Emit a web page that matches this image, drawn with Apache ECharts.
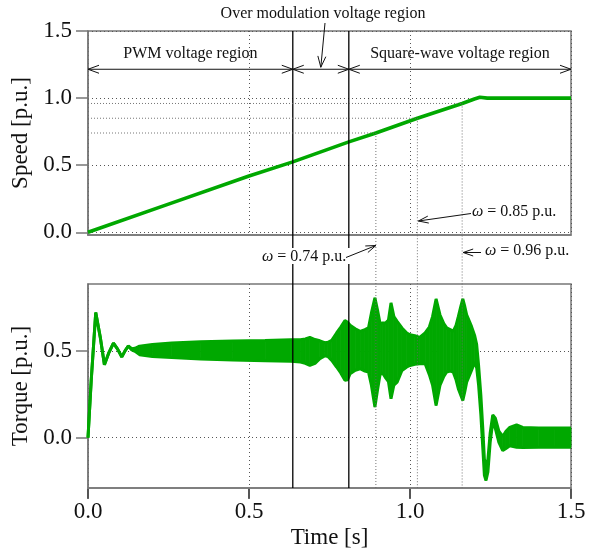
<!DOCTYPE html>
<html><head><meta charset="utf-8">
<script src="https://cdn.jsdelivr.net/npm/echarts@6/dist/echarts.min.js"></script>
<style>html,body{margin:0;padding:0;background:#fff}#c{width:600px;height:558px}</style>
</head><body><div id="c"></div>
<script>
// ---- data ----
const speedTime   = [0, 0.25, 0.5, 0.636, 0.81, 0.894, 1.023, 1.162, 1.2, 1.217, 1.24, 1.5];
const speedValues = [0, 0.21, 0.42, 0.525, 0.674, 0.74, 0.85, 0.96, 0.993, 1.006, 1.0, 1.0];

const torqueTime  = [0.000,0.010,0.024,0.038,0.051,0.065,0.079,0.092,0.105,0.115,0.125,0.136,0.146,0.160,0.200,0.260,0.350,0.450,0.550,0.630,0.660,0.675,0.689,0.705,0.720,0.735,0.745,0.757,0.772,0.785,0.798,0.806,0.814,0.830,0.845,0.860,0.871,0.880,0.891,0.899,0.907,0.915,0.925,0.933,0.941,0.950,0.960,0.975,0.990,1.000,1.015,1.030,1.047,1.060,1.070,1.081,1.093,1.105,1.114,1.125,1.134,1.143,1.150,1.158,1.164,1.170,1.176,1.191,1.201,1.207,1.213,1.220,1.226,1.231,1.236,1.242,1.249,1.257,1.265,1.276,1.288,1.298,1.310,1.331,1.350,1.400,1.450,1.500];
const torqueUpper = [0.00,0.33,0.72,0.58,0.42,0.49,0.545,0.51,0.465,0.50,0.528,0.512,0.515,0.527,0.537,0.545,0.552,0.557,0.560,0.564,0.564,0.569,0.577,0.565,0.558,0.547,0.549,0.560,0.603,0.637,0.674,0.665,0.647,0.627,0.612,0.622,0.632,0.717,0.805,0.737,0.657,0.661,0.661,0.677,0.776,0.697,0.670,0.632,0.603,0.593,0.587,0.577,0.603,0.637,0.697,0.799,0.708,0.657,0.632,0.622,0.612,0.647,0.697,0.757,0.799,0.757,0.708,0.641,0.587,0.537,0.417,0.247,0.057,-0.123,-0.178,-0.123,0.027,0.131,0.112,0.037,0.007,0.037,0.059,0.074,0.059,0.055,0.055,0.055];
const torqueLower = [0.00,0.33,0.72,0.58,0.42,0.49,0.545,0.51,0.465,0.50,0.528,0.505,0.497,0.478,0.468,0.461,0.453,0.447,0.443,0.440,0.436,0.428,0.416,0.428,0.455,0.471,0.468,0.445,0.407,0.373,0.330,0.333,0.368,0.388,0.397,0.383,0.378,0.303,0.176,0.273,0.363,0.373,0.343,0.323,0.224,0.303,0.320,0.387,0.407,0.416,0.423,0.426,0.426,0.363,0.303,0.185,0.301,0.353,0.378,0.383,0.378,0.333,0.282,0.243,0.214,0.263,0.320,0.387,0.436,0.403,0.303,0.133,-0.057,-0.217,-0.247,-0.197,-0.027,0.090,0.053,-0.027,-0.074,-0.062,-0.047,-0.055,-0.057,-0.055,-0.055,-0.055];

const xTicks = [0, 0.5, 1.0, 1.5];
const speedTicks = [0, 0.5, 1.0, 1.5];
const torqueTicks = [0, 0.5];
const regionBounds = [0, 0.636, 0.81, 1.5];
const regionNames = ['PWM voltage region', 'Over modulation voltage region', 'Square-wave voltage region'];
const markTimes  = [0.894, 1.023, 1.162];
const markSpeeds = [0.74, 0.85, 0.96];
const markLabels = ['0.74 p.u.', '0.85 p.u.', '0.96 p.u.'];

// ---- chart ----
const FONT = '"Liberation Serif", "DejaVu Serif", serif';
const GREEN = '#00a800';
const FRAME = '#777';
const SPEED_MIN = -0.02, SPEED_MAX = 1.5, TQ_MIN = -0.29, TQ_MAX = 0.885;

const chart = echarts.init(document.getElementById('c'), null, {renderer: 'canvas'});
const gridDot = {show: true, lineStyle: {color: '#555', width: 1, type: [1, 3]}};
const yAxisBase = (gi, min, max, ticks, name) => ({
  gridIndex: gi, type: 'value', min: min, max: max,
  axisLine: {show: true, onZero: false, lineStyle: {color: FRAME, width: 1.5}},
  axisTick: {show: true, length: 12, customValues: ticks, lineStyle: {color: FRAME, width: 1.5}},
  axisLabel: {customValues: ticks, formatter: v => v.toFixed(1), margin: 16, fontSize: 23, fontFamily: FONT, color: '#111'},
  splitLine: gridDot,
  name: name, nameLocation: 'middle', nameGap: 49,
  nameTextStyle: {fontSize: 23, fontFamily: FONT, color: '#111'}
});

chart.setOption({
  animation: false,
  backgroundColor: '#fff',
  grid: [
    {left: 88, right: 29, top: 31, height: 204, show: true, borderColor: FRAME, borderWidth: 1.5, containLabel: false},
    {left: 88, right: 29, top: 284, height: 204, show: true, borderColor: FRAME, borderWidth: 1.5, containLabel: false}
  ],
  xAxis: [
    {gridIndex: 0, type: 'value', min: 0, max: 1.5, interval: 0.5,
     axisLine: {show: true, onZero: false, lineStyle: {color: FRAME, width: 1.5}},
     axisTick: {show: false}, axisLabel: {show: false}, splitLine: gridDot},
    {gridIndex: 1, type: 'value', min: 0, max: 1.5, interval: 0.5,
     axisLine: {show: true, onZero: false, lineStyle: {color: FRAME, width: 1.5}},
     axisTick: {show: true, inside: false, length: 10, customValues: xTicks, lineStyle: {color: FRAME, width: 1.5}},
     axisLabel: {customValues: xTicks, formatter: v => v.toFixed(1), margin: 12, fontSize: 23, fontFamily: FONT, color: '#111'},
     splitLine: gridDot,
     name: 'Time [s]', nameLocation: 'middle', nameGap: 38,
     nameTextStyle: {fontSize: 23, fontFamily: FONT, color: '#111'}}
  ],
  yAxis: [
    yAxisBase(0, SPEED_MIN, SPEED_MAX, speedTicks, 'Speed [p.u.]'),
    yAxisBase(1, TQ_MIN, TQ_MAX, torqueTicks, 'Torque [p.u.]')
  ],
  series: [
    {type: 'line', xAxisIndex: 0, yAxisIndex: 0, symbol: 'none',
     data: speedTime.map((t, i) => [t, speedValues[i]]),
     lineStyle: {color: GREEN, width: 3.6}, z: 3},
    // filled envelope of the oscillating torque
    {type: 'custom', xAxisIndex: 1, yAxisIndex: 1, z: 3,
     data: torqueTime.map((t, i) => [t, torqueUpper[i], torqueLower[i]]),
     renderItem: function (params, api) {
       const i = params.dataIndex;
       if (i >= torqueTime.length - 1) return null;
       const a = api.coord([api.value(0), api.value(1)]);
       const b = api.coord([torqueTime[i + 1], torqueUpper[i + 1]]);
       const c = api.coord([torqueTime[i + 1], torqueLower[i + 1]]);
       const d = api.coord([api.value(0), api.value(2)]);
       return {type: 'polygon', shape: {points: [a, b, c, d]},
               style: {fill: GREEN, stroke: GREEN, lineWidth: 0.8}};
     }},
    {type: 'line', xAxisIndex: 1, yAxisIndex: 1, symbol: 'none',
     data: torqueTime.map((t, i) => [t, torqueUpper[i]]),
     lineStyle: {color: GREEN, width: 3}, z: 4},
    {type: 'line', xAxisIndex: 1, yAxisIndex: 1, symbol: 'none',
     data: torqueTime.map((t, i) => [t, torqueLower[i]]),
     lineStyle: {color: GREEN, width: 3}, z: 4}
  ]
});

// ---- annotations (positions via the chart's own scales) ----
const P = (g, x, y) => chart.convertToPixel({gridIndex: g}, [x, y]);
const els = [];
const line = (a, b, style) => els.push({type: 'line', shape: {x1: a[0], y1: a[1], x2: b[0], y2: b[1]}, style: style, z: 100, silent: true});
const head = (tip, from, len = 11, half = 4, color = '#111') => {
  const dx = tip[0] - from[0], dy = tip[1] - from[1];
  const L = Math.hypot(dx, dy), ux = dx / L, uy = dy / L;
  const bx = tip[0] - ux * len, by = tip[1] - uy * len;
  els.push({type: 'polyline', shape: {points: [[bx - uy * half, by + ux * half], tip, [bx + uy * half, by - ux * half]]},
            style: {stroke: color, lineWidth: 1, fill: null}, z: 101, silent: true});
};
const text = (x, y, str, align, rich) => els.push({type: 'text', x: x, y: y, z: 102, silent: true,
  style: {text: str, font: '16px ' + FONT, fill: '#111', align: align || 'center', verticalAlign: 'middle',
          rich: rich || undefined}});

const black = {stroke: '#000', lineWidth: 1.3};
const fineDot = {stroke: '#666', lineWidth: 0.9, lineDash: [1, 2]};

const omegaRich = {w: {font: 'italic 16px ' + FONT, fill: '#111'}};
const lbl74 = [262, 257], lbl85 = [472, 212], lbl96 = [485, 251];

// bottom time-axis tick marks (outward), placed through the axis scale
xTicks.forEach(t => {
  const p = P(1, t, TQ_MIN);
  line([p[0], p[1] + 1], [p[0], p[1] + 11], {stroke: '#444', lineWidth: 1.6});
});

// solid region boundaries spanning both plots (gap behind the 0.74 label)
[regionBounds[1], regionBounds[2]].forEach(t => {
  const top = P(0, t, SPEED_MAX), bot = P(1, t, TQ_MIN);
  line(top, [top[0], lbl74[1] - 9], black);
  line([bot[0], lbl74[1] + 7], bot, black);
});

// fine dotted guide lines
markTimes.forEach((t, i) => {
  const s = markSpeeds[i];
  line(P(0, 0, s), P(0, t, s), fineDot);
  line(P(0, t, s), P(1, t, TQ_MIN), fineDot);
});

// region arrows
const arrowY = 1.215;
for (let i = 0; i < 3; i++) {
  const a = P(0, regionBounds[i], arrowY), b = P(0, regionBounds[i + 1], arrowY);
  line(a, b, {stroke: '#111', lineWidth: 1});
  head(a, b); head(b, a);
}
text((P(0, regionBounds[0], 0)[0] + P(0, regionBounds[1], 0)[0]) / 2, 54, regionNames[0]);
text((P(0, regionBounds[2], 0)[0] + P(0, regionBounds[3], 0)[0]) / 2, 54, regionNames[2]);
text(323, 14, regionNames[1]);
const omTip = P(0, (regionBounds[1] + regionBounds[2]) / 2, arrowY);
const omTipPt = [omTip[0], omTip[1] - 2];
line([325, 23], omTipPt, {stroke: '#111', lineWidth: 1});
head(omTipPt, [325, 23], 11, 4);

// omega = ... labels with arrows
text(lbl74[0], lbl74[1], '{w|ω} = ' + markLabels[0], 'left', omegaRich);
const tip74 = [P(0, markTimes[0], 0)[0], 245.5];
line([346, 257.5], tip74, {stroke: '#111', lineWidth: 1}); head(tip74, [346, 257.5], 10, 3.5);

text(lbl85[0], lbl85[1], '{w|ω} = ' + markLabels[1], 'left', omegaRich);
const tip85 = [P(0, markTimes[1], 0)[0] + 1, 221];
line([471, 213.5], tip85, {stroke: '#111', lineWidth: 1}); head(tip85, [471, 213.5], 10, 3.5);

text(lbl96[0], lbl96[1], '{w|ω} = ' + markLabels[2], 'left', omegaRich);
const tip96 = [P(0, markTimes[2], 0)[0] + 1, 252.5];
line([481, 252.5], tip96, {stroke: '#111', lineWidth: 1}); head(tip96, [481, 252.5], 10, 3.5);

chart.setOption({graphic: els});
</script>
</body></html>
